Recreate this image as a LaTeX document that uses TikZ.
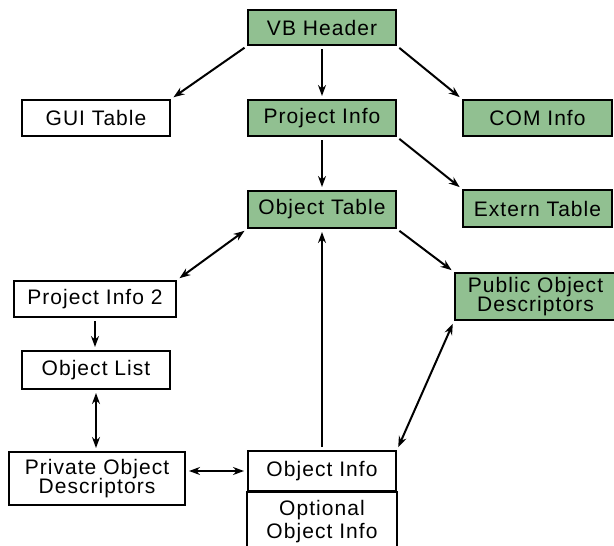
\documentclass[tikz,border=0pt]{standalone}
\usepackage{fontspec}
\setmainfont{Liberation Sans}[LetterSpace=5]
\usetikzlibrary{arrows.meta}
\definecolor{boxgreen}{RGB}{145,192,145}
\newcommand\boxfont{\fontsize{21}{18.5}\selectfont\setlength{\lineskiplimit}{-100pt}}
\tikzset{
  txt/.style={inner sep=0pt, align=center, font=\boxfont},
  box/.style={txt, draw=black, line width=2pt, rectangle},
  gbox/.style={box, fill=boxgreen},
  arr/.style={line width=2pt, -{Stealth[length=11pt,width=8pt]}, shorten >=3pt, shorten <=3pt},
  darr/.style={line width=2pt, {Stealth[length=11pt,width=8pt]}-{Stealth[length=11pt,width=8pt]}, shorten >=3pt, shorten <=3pt}
}
\begin{document}
\begin{tikzpicture}[x=1pt,y=-1pt]
\useasboundingbox (0,0) rectangle (614,546);
\begin{scope}
\clip (0,0) rectangle (614,546);
\node[gbox, minimum width=148pt, minimum height=35pt] (vb) at (322,27.5) {VB Header};
\node[box, minimum width=148pt, minimum height=36pt] (gui) at (96,118) {GUI Table};
\node[gbox, minimum width=148pt, minimum height=36pt] (pi) at (322,118) {Project Info};
\node[gbox, minimum width=149pt, minimum height=36pt] (com) at (537.5,118) {COM Info};
\node[gbox, minimum width=148pt, minimum height=37pt] (ot) at (322,209.5) {Object Table};
\node[gbox, minimum width=149pt, minimum height=37pt] (ext) at (537.5,208.5) {Extern Table};
\node[gbox, minimum width=161pt, minimum height=47pt] (pub) at (535.5,296.5) {Public Object\\Descriptors};
\node[box, minimum width=162pt, minimum height=36pt] (pi2) at (95,299) {Project Info 2};
\node[box, minimum width=148pt, minimum height=38pt] (ol) at (96,370) {Object List};
\node[box, minimum width=176pt, minimum height=53pt] (priv) at (97,478.5) {Private Object\\Descriptors};
\node[box, minimum width=148pt, minimum height=40pt] (oi) at (322,471) {Object Info};
\coordinate (optbot) at ([yshift=-80pt]oi.south east);
\draw[line width=2pt] (oi.south west) rectangle (optbot);
\node[txt, anchor=base] (opt1) at (322,515) {Optional};
\node[txt, anchor=base] (opt2) at (322,538) {Object Info};
\end{scope}
\draw[arr] (vb.south west) -- (gui.north east);
\draw[arr] (vb.south) -- (pi.north);
\draw[arr] (vb.south east) -- (com.north west);
\draw[arr] (pi.south) -- (ot.north);
\draw[arr] (pi.south east) -- (ext.north west);
\draw[darr] (ot.south west) -- (pi2.north east);
\draw[arr] (ot.south east) -- (pub.north west);
\draw[arr] (oi.north) -- (ot.south);
\draw[arr] (pi2.south) -- (pi2.south |- ol.north);
\draw[darr] (ol.south) -- (ol.south |- priv.north);
\draw[darr] (priv.east |- oi.west) -- (oi.west);
\draw[darr] (pub.south west) -- (oi.north east);
\end{tikzpicture}
\end{document}
